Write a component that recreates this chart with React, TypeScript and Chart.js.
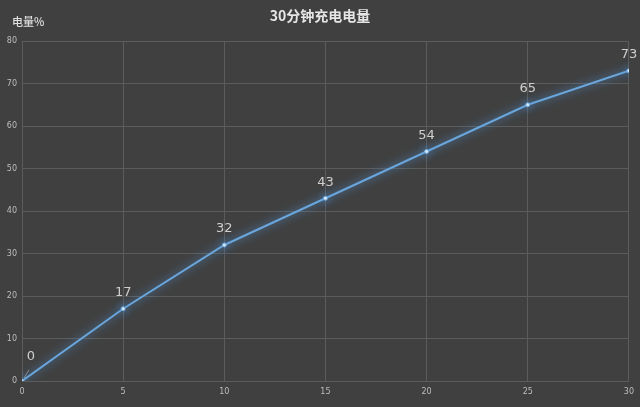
import React, { useEffect, useRef } from 'react'
import { Chart, registerables } from 'chart.js'

Chart.register(...registerables)

const minutes = [0, 5, 10, 15, 20, 25, 30]
const charge = [0, 17, 32, 43, 54, 65, 73]
const chartTitle = '30分钟充电电量'
const yAxisLabel = '电量%'

const bg = '#404040'
const lineBlue = '#6aa6dc'
const labelGray = '#cfcfcf'
const tickGray = '#bdbdbd'
const gridGray = '#5c5c5c'
const cjkFont = '"Microsoft YaHei", "Noto Sans CJK SC", sans-serif'

const backgroundPlugin = {
  id: 'bg',
  beforeDraw(chart: any) {
    const { ctx, width, height } = chart
    ctx.save()
    ctx.fillStyle = bg
    ctx.fillRect(0, 0, width, height)
    ctx.restore()
  },
}

// glow around the line
const glowPlugin = {
  id: 'glow',
  beforeDatasetDraw(chart: any) {
    const ctx = chart.ctx
    ctx.save()
    ctx.shadowColor = 'rgba(80, 150, 220, 1)'
    ctx.shadowBlur = 9
  },
  afterDatasetDraw(chart: any) {
    chart.ctx.restore()
  },
}

const textPlugin = {
  id: 'texts',
  afterDraw(chart: any) {
    const { ctx, chartArea, width } = chart
    ctx.save()
    // title
    ctx.fillStyle = '#e6e6e6'
    ctx.font = `bold 14px ${cjkFont}`
    ctx.textAlign = 'center'
    ctx.textBaseline = 'middle'
    ctx.fillText(chartTitle, width / 2, 16)
    // axis label
    ctx.font = `500 11px ${cjkFont}`
    ctx.textAlign = 'left'
    ctx.fillStyle = '#e0e0e0'
    ctx.fillText(yAxisLabel, 12, chartArea.top - 19)
    // data labels
    const meta = chart.getDatasetMeta(0)
    ctx.font = '13px "DejaVu Sans", sans-serif'
    ctx.fillStyle = labelGray
    ctx.textAlign = 'center'
    meta.data.forEach((pt: any, i: number) => {
      if (i === 0) {
        ctx.strokeStyle = '#9a9a9a'
        ctx.lineWidth = 0.8
        ctx.beginPath()
        ctx.moveTo(pt.x + 2, pt.y - 3)
        ctx.lineTo(pt.x + 7, pt.y - 11)
        ctx.stroke()
        ctx.fillText(String(charge[i]), pt.x + 9, pt.y - 24)
      } else {
        ctx.fillText(String(charge[i]), pt.x, pt.y - 16)
      }
    })
    ctx.restore()
  },
}

export default function App() {
  const canvasRef = useRef<HTMLCanvasElement>(null)

  useEffect(() => {
    if (!canvasRef.current) return
    document.body.style.margin = '0'
    const chart = new Chart(canvasRef.current, {
      type: 'line',
      data: {
        labels: minutes,
        datasets: [
          {
            data: charge,
            borderColor: lineBlue,
            borderWidth: 2,
            pointRadius: 2,
            pointBackgroundColor: '#e2eefa',
            pointBorderColor: lineBlue,
            pointBorderWidth: 1,
            tension: 0,
          },
        ],
      },
      options: {
        responsive: false,
        animation: false,
        layout: { padding: { top: 41, right: 10, left: 0, bottom: 0 } },
        plugins: {
          legend: { display: false },
          title: { display: false },
          tooltip: { enabled: false },
        },
        scales: {
          x: {
            type: 'linear',
            min: 0,
            max: 30,
            ticks: {
              stepSize: 5,
              color: tickGray,
              font: { size: 8, family: '"DejaVu Sans", sans-serif' },
              padding: 6,
            },
            grid: { color: gridGray, drawTicks: false },
            border: { color: gridGray },
            afterFit(scale: any) {
              scale.height = 26
            },
          },
          y: {
            min: 0,
            max: 80,
            ticks: {
              stepSize: 10,
              color: tickGray,
              font: { size: 8, family: '"DejaVu Sans", sans-serif' },
              padding: 5,
            },
            grid: { color: gridGray, drawTicks: false },
            border: { color: gridGray },
            afterFit(scale: any) {
              scale.width = 22
            },
          },
        },
      },
      plugins: [backgroundPlugin, glowPlugin, textPlugin],
    })
    return () => chart.destroy()
  }, [])

  return (
    <div style={{ width: 640, height: 407, background: bg }}>
      <canvas ref={canvasRef} width={640} height={407} />
    </div>
  )
}
